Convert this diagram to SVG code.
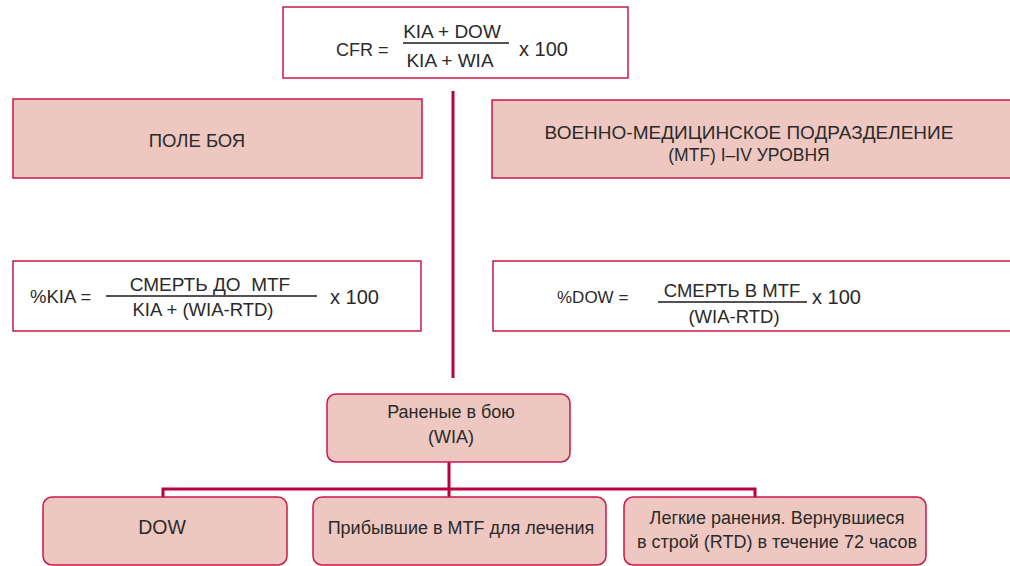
<svg xmlns="http://www.w3.org/2000/svg" width="1010" height="566" viewBox="0 0 1010 566">
<style>
.box{fill:#ffffff;stroke:#c8194a;stroke-width:1.5}
.pink{fill:#eec8c0;stroke:#c8194a;stroke-width:1.5}
.t{font-family:"Liberation Sans",Arial,sans-serif;font-size:18.5px;fill:#2a2a2a}
.s{font-size:18px}
.m{text-anchor:middle}
.frac{stroke:#1a1a1a;stroke-width:1.5}
.conn{stroke:#b8003a;stroke-width:3;fill:none}
</style>
<rect width="1010" height="566" fill="#ffffff"/>
<g id="connectors">
<line class="conn" x1="453" y1="91" x2="453" y2="378"/>
<line class="conn" x1="449" y1="462" x2="449" y2="497"/>
<polyline class="conn" points="163,497 163,489 755,489 755,497"/>
</g>
<g id="cfr">
<rect class="box" x="283" y="7" width="345" height="71"/>
<text class="t" x="336" y="56" style="font-size:18px">CFR =</text>
<text class="t m" x="452" y="38" style="font-size:19px">KIA + DOW</text>
<line class="frac" x1="403" y1="43" x2="509" y2="43"/>
<text class="t m" x="450" y="67" style="font-size:19px">KIA + WIA</text>
<text class="t" x="519" y="56" style="font-size:20px">x 100</text>
</g>
<g id="battlefield">
<rect class="pink" x="13" y="99" width="409" height="79"/>
<text class="t m" x="197" y="147">ПОЛЕ БОЯ</text>
</g>
<g id="mtf">
<rect class="pink" x="492" y="100" width="522" height="78"/>
<text class="t m" x="749" y="139" style="font-size:19px">ВОЕННО-МЕДИЦИНСКОЕ ПОДРАЗДЕЛЕНИЕ</text>
<text class="t m" x="749" y="161" style="font-size:17.5px">(MTF) I–IV УРОВНЯ</text>
</g>
<g id="kia">
<rect class="box" x="13" y="261" width="408" height="70"/>
<text class="t" x="30" y="303">%KIA =</text>
<text class="t m" x="210" y="291" style="font-size:19px;white-space:pre">СМЕРТЬ ДО  MTF</text>
<line class="frac" x1="106" y1="296" x2="317" y2="296"/>
<text class="t m" x="203" y="316">KIA + (WIA-RTD)</text>
<text class="t" x="330" y="304" style="font-size:20px">x 100</text>
</g>
<g id="dow">
<rect class="box" x="493" y="261" width="521" height="70"/>
<text class="t" x="557" y="303" style="font-size:17px">%DOW =</text>
<text class="t m" x="732" y="297">СМЕРТЬ В MTF</text>
<line class="frac" x1="658" y1="302" x2="807" y2="302"/>
<text class="t m" x="734" y="323">(WIA-RTD)</text>
<text class="t" x="812" y="304" style="font-size:20px">x 100</text>
</g>
<g id="wia">
<rect class="pink" x="327" y="394" width="243" height="68" rx="9"/>
<text class="t s m" x="451" y="418">Раненые в бою</text>
<text class="t s m" x="451" y="443">(WIA)</text>
</g>
<g id="dow-node">
<rect class="pink" x="43" y="497" width="244" height="68" rx="9"/>
<text class="t m" x="162" y="534" style="font-size:19.5px">DOW</text>
</g>
<g id="arrived">
<rect class="pink" x="313" y="497" width="293" height="68" rx="9"/>
<text class="t s m" x="461" y="534">Прибывшие в MTF для лечения</text>
</g>
<g id="rtd">
<rect class="pink" x="624" y="497" width="302" height="68" rx="9"/>
<text class="t s m" x="777" y="524">Легкие ранения. Вернувшиеся</text>
<text class="t s m" x="777" y="548">в строй (RTD) в течение 72 часов</text>
</g>
</svg>
